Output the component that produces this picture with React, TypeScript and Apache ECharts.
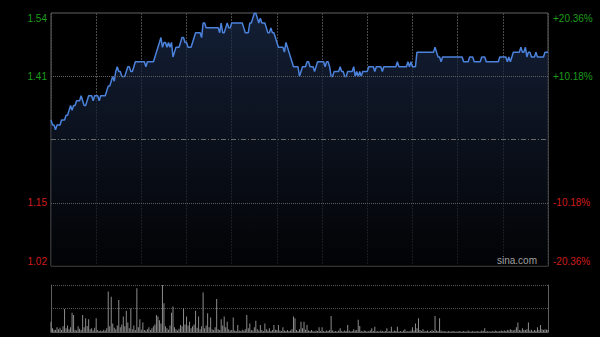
import React, { useEffect, useRef } from "react";
import * as echarts from "echarts";

// Previous close and axis half-range (percent)
const prevClose = 1.28;
const pctStep = 10.18;

// Minute prices, 9:30–12:00 then 13:00–16:00 (331 minutes)
const prices: number[] = [
  // 0-29
  1.32,1.31,1.31,1.30,1.31,1.31,1.31,1.32,1.32,1.32,1.33,1.33,1.34,1.35,1.34,1.35,1.35,1.36,1.36,1.36,1.37,1.36,1.35,1.35,1.36,1.37,1.37,1.37,1.36,1.37,
  // 30-59
  1.37,1.37,1.36,1.37,1.37,1.37,1.37,1.38,1.39,1.39,1.40,1.41,1.40,1.42,1.43,1.42,1.42,1.41,1.41,1.41,1.42,1.43,1.43,1.42,1.42,1.43,1.44,1.44,1.44,1.44,
  // 60-89
  1.44,1.44,1.44,1.43,1.44,1.44,1.44,1.44,1.44,1.45,1.46,1.47,1.48,1.49,1.47,1.48,1.48,1.47,1.48,1.47,1.48,1.45,1.46,1.47,1.47,1.47,1.48,1.49,1.49,1.48,
  // 90-119
  1.48,1.47,1.47,1.47,1.48,1.49,1.50,1.50,1.50,1.50,1.49,1.52,1.52,1.51,1.51,1.51,1.51,1.51,1.51,1.51,1.51,1.51,1.50,1.52,1.50,1.50,1.51,1.52,1.51,1.51,
  // 120-149
  1.52,1.52,1.52,1.52,1.52,1.52,1.52,1.52,1.51,1.50,1.50,1.50,1.52,1.52,1.53,1.54,1.54,1.53,1.52,1.53,1.52,1.52,1.52,1.51,1.50,1.50,1.51,1.50,1.50,1.49,
  // 150-179
  1.48,1.47,1.47,1.47,1.47,1.46,1.48,1.47,1.46,1.45,1.44,1.43,1.43,1.43,1.43,1.41,1.42,1.43,1.43,1.43,1.44,1.44,1.43,1.43,1.43,1.42,1.43,1.44,1.44,1.44,
  // 180-209
  1.44,1.44,1.43,1.44,1.44,1.43,1.41,1.41,1.42,1.42,1.42,1.42,1.43,1.42,1.42,1.41,1.41,1.42,1.42,1.42,1.42,1.43,1.41,1.42,1.41,1.42,1.41,1.42,1.42,1.42,
  // 210-239
  1.42,1.43,1.43,1.43,1.43,1.42,1.43,1.43,1.43,1.43,1.42,1.43,1.43,1.43,1.43,1.43,1.43,1.43,1.43,1.43,1.44,1.43,1.43,1.43,1.43,1.43,1.43,1.44,1.43,1.44,
  // 240-269
  1.43,1.43,1.43,1.46,1.46,1.46,1.46,1.46,1.46,1.46,1.46,1.46,1.46,1.46,1.46,1.47,1.46,1.45,1.45,1.44,1.45,1.45,1.45,1.45,1.45,1.45,1.45,1.45,1.45,1.45,
  // 270-299
  1.45,1.45,1.45,1.45,1.44,1.44,1.44,1.44,1.45,1.45,1.45,1.44,1.44,1.44,1.44,1.44,1.45,1.45,1.45,1.44,1.44,1.44,1.44,1.44,1.44,1.44,1.44,1.44,1.45,1.45,
  // 300-330
  1.45,1.45,1.45,1.44,1.45,1.44,1.45,1.46,1.46,1.46,1.46,1.46,1.47,1.46,1.46,1.47,1.45,1.46,1.46,1.45,1.45,1.45,1.46,1.45,1.45,1.45,1.45,1.45,1.46,1.46,1.46,
];

// Minute volumes (relative units, 100 = panel top)
const volumes: number[] = [
  // 0-29
  22,8,5,4,10,6,9,4,12,49,8,14,6,10,41,36,5,3,12,7,4,36,10,29,13,27,6,8,3,9,
  // 30-59
  29,4,2,3,2,5,3,8,86,12,75,18,9,6,14,68,10,16,33,12,45,20,8,50,6,14,4,93,10,27,
  // 60-89
  5,20,4,3,6,10,4,8,12,16,36,33,25,18,100,61,12,8,5,14,41,54,10,6,3,7,15,12,50,16,
  // 90-119
  33,14,22,8,12,16,45,9,33,6,12,84,8,14,40,10,31,6,4,10,70,6,4,27,14,33,10,22,6,3,
  // 120-149
  4,31,3,2,15,3,2,5,3,6,36,8,18,4,3,10,24,6,3,15,4,2,18,6,3,8,2,4,15,5,
  // 150-179
  4,15,3,2,10,3,2,4,2,3,6,33,29,4,2,6,22,8,22,5,15,3,2,4,2,1,3,2,10,2,
  // 180-209
  10,2,1,3,2,4,34,3,1,2,1,3,8,2,1,3,2,15,3,1,2,6,3,4,26,13,2,1,3,2,
  // 210-239
  1,2,3,8,2,11,1,2,1,3,2,1,2,8,1,2,11,1,3,2,11,1,2,1,3,6,1,2,1,3,
  // 240-269
  10,3,18,8,29,4,2,6,1,2,3,1,2,4,2,34,3,2,29,3,1,2,1,1,2,1,1,2,1,1,
  // 270-299
  1,2,1,1,2,1,1,3,1,1,2,1,1,2,1,1,3,2,8,1,2,1,1,2,1,3,2,1,2,3,
  // 300-330
  2,3,2,4,3,6,4,3,5,10,20,4,3,8,5,4,6,20,3,5,2,4,3,10,4,15,6,4,6,5,4,
];

const sessionMinutes = 330;
const timeStep = 30;

const GREEN = "#1c9c1c";
const RED = "#d01c1c";
const FONT = "Liberation Sans, Arial, sans-serif";

export default function App() {
  const ref = useRef<HTMLDivElement>(null);

  useEffect(() => {
    document.body.style.margin = "0";
    document.body.style.background = "#000";
    if (!ref.current) return;
    const chart = echarts.init(ref.current, undefined, { renderer: "svg" });

    const pct = (p: number) => ((p - prevClose) / prevClose) * 100;
    const half = pctStep * 2;

    chart.setOption({
      animation: false,
      backgroundColor: "#000",
      grid: [
        { left: 51, right: 52, top: 13, height: 253, show: true, borderColor: "#626262", borderWidth: 1, backgroundColor: "transparent" },
        { left: 51, right: 52, top: 285, height: 47, show: false },
      ],
      xAxis: [
        {
          gridIndex: 0, type: "value", min: 0, max: sessionMinutes, interval: timeStep,
          axisLine: { show: false }, axisTick: { show: false }, axisLabel: { show: false },
          splitLine: { show: true, lineStyle: { color: "#4a4a4a", type: [2, 1], width: 1 } },
        },
        {
          gridIndex: 1, type: "value", min: 0, max: sessionMinutes, interval: timeStep,
          axisLine: { show: true, onZero: false, lineStyle: { color: "#5e5e5e", width: 1 } },
          axisTick: { show: false }, axisLabel: { show: false }, splitLine: { show: false },
        },
      ],
      yAxis: [
        {
          gridIndex: 0, type: "value", min: -half, max: half, interval: pctStep, position: "left",
          axisLine: { show: false }, axisTick: { show: false }, splitLine: { show: false },
          axisLabel: {
            fontSize: 10, fontFamily: FONT, margin: 4,
            verticalAlignMinLabel: "bottom", verticalAlignMaxLabel: "top",
            color: (v: any) => (Number(v) > 0 ? GREEN : RED),
            formatter: (v: number) => (Math.abs(v) < 1e-9 ? "" : (prevClose * (1 + v / 100)).toFixed(2)),
          },
        },
        {
          gridIndex: 0, type: "value", min: -half, max: half, interval: pctStep, position: "right",
          axisLine: { show: false }, axisTick: { show: false }, splitLine: { show: false },
          axisLabel: {
            fontSize: 10, fontFamily: FONT, margin: 5,
            verticalAlignMinLabel: "bottom", verticalAlignMaxLabel: "top",
            color: (v: any) => (Number(v) > 0 ? GREEN : RED),
            formatter: (v: number) => (Math.abs(v) < 1e-9 ? "" : (v > 0 ? "+" : "") + v.toFixed(2) + "%"),
          },
        },
        {
          gridIndex: 1, type: "value", min: 0, max: 100, interval: 50, position: "left",
          axisLine: { show: true, lineStyle: { color: "#5e5e5e", width: 1 } },
          axisTick: { show: false }, axisLabel: { show: false },
          splitLine: { show: true, lineStyle: { color: "#555", type: "dotted", width: 1 } },
        },
        {
          gridIndex: 1, type: "value", min: 0, max: 100, interval: 50, position: "right",
          axisLine: { show: true, lineStyle: { color: "#5e5e5e", width: 1 } },
          axisTick: { show: false }, axisLabel: { show: false }, splitLine: { show: false },
        },
      ],
      series: [
        {
          type: "line",
          xAxisIndex: 0, yAxisIndex: 0,
          data: prices.map((p, i) => [i, pct(p)]),
          showSymbol: false,
          symbol: "none",
          lineStyle: { color: "#4b82dc", width: 1.5 },
          areaStyle: {
            origin: "start",
            color: new echarts.graphic.LinearGradient(0, 0, 0, 1, [
              { offset: 0, color: "#1c2c4c" },
              { offset: 0.45, color: "#111a2c" },
              { offset: 1, color: "#030407" },
            ]),
          },
          markLine: {
            silent: true, symbol: "none", label: { show: false },
            data: [
              { yAxis: pctStep, lineStyle: { color: "#5e5e5e", type: "dotted", width: 1 } },
              { yAxis: -pctStep, lineStyle: { color: "#5e5e5e", type: "dotted", width: 1 } },
              { yAxis: 0, lineStyle: { color: "#6a6a6a", type: [5, 2, 1, 2], width: 1 } },
            ],
          },
          z: 3,
        },
        {
          type: "bar",
          xAxisIndex: 1, yAxisIndex: 2,
          data: volumes.map((v, i) => [i, v]),
          barWidth: 1,
          itemStyle: { color: "#8c8c8c" },
        },
      ],
      graphic: [
        {
          type: "text", right: 63, top: 255,
          style: { text: "sina.com", fill: "#a0a0a0", fontSize: 10, fontFamily: FONT },
          z: 10,
        },
      ],
    });

    return () => chart.dispose();
  }, []);

  return <div ref={ref} style={{ width: 600, height: 337 }} />;
}
